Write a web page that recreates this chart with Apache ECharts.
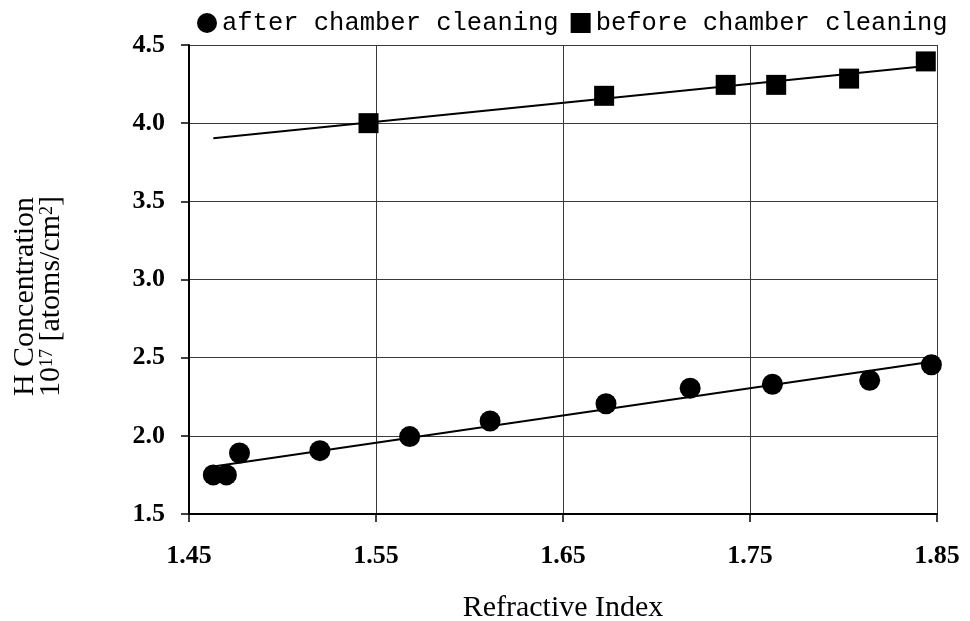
<!DOCTYPE html>
<html>
<head>
<meta charset="utf-8">
<script src="https://cdn.jsdelivr.net/npm/echarts@6/dist/echarts.min.js"></script>
<style>
  html, body { margin: 0; padding: 0; background: #fff; }
  #chart { width: 970px; height: 621px; }
</style>
</head>
<body>
<div id="chart"></div>
<script>
// Refractive index of each film (x) and H concentration in 1e17 atoms/cm^2 (y)
const afterIndex = [1.463, 1.470, 1.477, 1.520, 1.568, 1.611, 1.673, 1.718, 1.762, 1.814, 1.847];
const afterConc  = [1.75, 1.75, 1.89, 1.905, 1.995, 2.095, 2.205, 2.305, 2.33, 2.355, 2.455];
const beforeIndex = [1.546, 1.672, 1.737, 1.764, 1.803, 1.844];
const beforeConc  = [4.00, 4.175, 4.245, 4.245, 4.285, 4.395];

const xTicks = [1.45, 1.55, 1.65, 1.75, 1.85];
const yTicks = [1.5, 2.0, 2.5, 3.0, 3.5, 4.0, 4.5];

const seriesNames = ['after chamber cleaning', 'before chamber cleaning'];

// Least-squares linear trend, drawn across the full span of measured indices
function trend(xs, ys, x0, x1) {
  const n = xs.length;
  const mx = xs.reduce((a, b) => a + b, 0) / n;
  const my = ys.reduce((a, b) => a + b, 0) / n;
  let sxy = 0, sxx = 0;
  for (let i = 0; i < n; i++) {
    sxy += (xs[i] - mx) * (ys[i] - my);
    sxx += (xs[i] - mx) * (xs[i] - mx);
  }
  const k = sxy / sxx, b = my - k * mx;
  return [[x0, k * x0 + b], [x1, k * x1 + b]];
}
const allX = afterIndex.concat(beforeIndex);
const xLo = Math.min(...allX), xHi = Math.max(...allX);

const pairs = (xs, ys) => xs.map((x, i) => [x, ys[i]]);

const serif = '"Liberation Serif", "Times New Roman", serif';
const chart = echarts.init(document.getElementById('chart'), null, { renderer: 'canvas' });

chart.setOption({
  backgroundColor: '#fff',
  animation: false,
  grid: { left: 189, right: 33, top: 45, bottom: 107, containLabel: false, outerBoundsMode: 'none' },
  legend: {
    data: seriesNames,
    left: 192,
    top: 5,
    itemWidth: 20,
    itemHeight: 20,
    itemGap: 12,
    textStyle: { fontFamily: '"Liberation Mono", "DejaVu Sans Mono", monospace', fontSize: 25.5, color: '#000' },
    selectedMode: false
  },
  xAxis: {
    type: 'value',
    min: xTicks[0],
    max: xTicks[xTicks.length - 1],
    name: 'Refractive Index',
    nameLocation: 'middle',
    nameGap: 79,
    nameTextStyle: { fontFamily: serif, fontSize: 30, color: '#000' },
    axisLine: { show: true, onZero: false, lineStyle: { color: '#000', width: 2 } },
    axisTick: { show: true, inside: false, length: 8, customValues: xTicks, lineStyle: { color: '#000', width: 1.5 } },
    axisLabel: {
      customValues: xTicks,
      margin: 29,
      fontFamily: serif, fontWeight: 'bold', fontSize: 26, color: '#000',
      formatter: v => v.toFixed(2)
    },
    splitLine: { show: true, lineStyle: { color: '#3a3a3a', width: 1 } }
  },
  yAxis: {
    type: 'value',
    min: yTicks[0],
    max: yTicks[yTicks.length - 1],
    interval: 0.5,
    name: '{a|H Concentration}\n{a|10}{s|17}{a| [atoms/cm}{s|2}{a|]}',
    nameLocation: 'middle',
    nameRotate: 90,
    nameGap: 125,
    nameTextStyle: {
      color: '#000',
      padding: [0, 34, 0, 0],
      rich: {
        a: { fontFamily: serif, fontSize: 30, color: '#000', lineHeight: 26 },
        s: { fontFamily: serif, fontSize: 18, color: '#000', verticalAlign: 'top', lineHeight: 26 }
      }
    },
    axisLine: { show: true, onZero: false, lineStyle: { color: '#000', width: 2 } },
    axisTick: { show: true, inside: false, length: 8, lineStyle: { color: '#000', width: 1.5 } },
    axisLabel: {
      margin: 24,
      fontFamily: serif, fontWeight: 'bold', fontSize: 26, color: '#000',
      formatter: v => v.toFixed(1)
    },
    splitLine: { show: true, lineStyle: { color: '#3a3a3a', width: 1 } }
  },
  series: [
    {
      name: seriesNames[0],
      type: 'scatter',
      symbol: 'circle',
      symbolSize: 21,
      itemStyle: { color: '#000', opacity: 1 },
      data: pairs(afterIndex, afterConc),
      z: 5
    },
    {
      name: seriesNames[1],
      type: 'scatter',
      symbol: 'rect',
      symbolSize: 20,
      itemStyle: { color: '#000', opacity: 1 },
      data: pairs(beforeIndex, beforeConc),
      z: 5
    },
    {
      name: 'after trend',
      type: 'line',
      data: trend(afterIndex, afterConc, xLo, xHi),
      showSymbol: false,
      silent: true,
      lineStyle: { color: '#000', width: 2 },
      z: 3
    },
    {
      name: 'before trend',
      type: 'line',
      data: trend(beforeIndex, beforeConc, xLo, xHi),
      showSymbol: false,
      silent: true,
      lineStyle: { color: '#000', width: 2 },
      z: 3
    }
  ]
});
</script>
</body>
</html>
